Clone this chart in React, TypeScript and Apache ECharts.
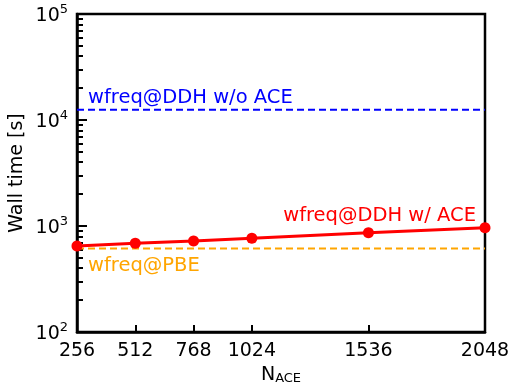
import React, { useEffect, useRef } from "react";
import * as echarts from "echarts";

const nAce = [256, 512, 768, 1024, 1536, 2048];
const wallTimeAce = [647, 687, 722, 766, 865, 964];
const wallTimeNoAce = 12500;
const wallTimePbe = 615;
const xTicks = [256, 512, 768, 1024, 1536, 2048];
const yMajor = [100, 1000, 10000, 100000];
const yMinor = [2, 3, 4, 5, 6, 7, 8, 9].flatMap((m) => [m * 100, m * 1000, m * 10000]);

const FONT = "DejaVu Sans";
const FS = 19;
const FS_NOTE = 19.5;

export default function App() {
  const ref = useRef<HTMLDivElement>(null);
  useEffect(() => {
    if (!ref.current) return;
    const chart = echarts.init(ref.current, null, { renderer: "svg" });
    chart.setOption({
      animation: false,
      textStyle: { fontFamily: FONT },
      grid: {
        left: 77,
        right: 26,
        top: 14,
        bottom: 55,
        outerBoundsMode: "none",
        containLabel: false,
        show: true,
        borderColor: "#000",
        borderWidth: 2.5,
        backgroundColor: "transparent",
      },
      xAxis: {
        type: "value",
        min: 256,
        max: 2048,
        name: "{n|N}{s|ACE}",
        nameLocation: "middle",
        nameGap: 30,
        nameTextStyle: {
          rich: {
            n: { fontSize: FS, fontFamily: FONT, color: "#000" },
            s: { fontSize: 13, fontFamily: FONT, color: "#000", padding: [9, 0, 0, 0] },
          },
        },
        axisLine: { show: true, lineStyle: { color: "#000", width: 2.5 } },
        axisTick: { show: true, inside: true, length: 7, lineStyle: { color: "#000", width: 2 }, customValues: xTicks },
        axisLabel: {
          color: "#000",
          fontSize: FS,
          fontFamily: FONT,
          margin: 7,
          customValues: xTicks,
          formatter: (v: number) => String(v),
        },
        splitLine: { show: false },
      },
      yAxis: [
        {
          type: "log",
          logBase: 10,
          min: 100,
          max: 100000,
          name: "Wall time [s]",
          nameLocation: "middle",
          nameGap: 49,
          nameTextStyle: { color: "#000", fontSize: FS, fontFamily: FONT },
          axisLine: { show: true, lineStyle: { color: "#000", width: 2.5 } },
          axisTick: { show: true, inside: true, length: 10, lineStyle: { color: "#000", width: 2 }, customValues: yMajor },
          axisLabel: {
            customValues: yMajor,
            margin: 9,
            formatter: (v: number) => `{b|10}{s|${Math.round(Math.log10(v))}}`,
            rich: {
              b: { fontSize: FS, fontFamily: FONT, color: "#000" },
              s: { fontSize: 13, fontFamily: FONT, color: "#000", padding: [0, 0, 11, 0] },
            },
          },
          splitLine: { show: false },
        },
        {
          type: "log",
          logBase: 10,
          min: 100,
          max: 100000,
          position: "left",
          axisLine: { show: false },
          axisTick: { show: true, inside: true, length: 6, lineStyle: { color: "#000", width: 2 }, customValues: yMinor },
          axisLabel: { show: false },
          splitLine: { show: false },
        },
      ],
      series: [
        {
          type: "line",
          data: [[256, wallTimeNoAce], [2048, wallTimeNoAce]],
          symbol: "none",
          lineStyle: { color: "#0000ff", width: 2, type: [7, 4] },
          z: 2,
        },
        {
          type: "line",
          data: [[256, wallTimePbe], [2048, wallTimePbe]],
          symbol: "none",
          lineStyle: { color: "#ffa500", width: 2, type: [7, 4] },
          z: 2,
        },
        {
          type: "line",
          data: nAce.map((x, i) => [x, wallTimeAce[i]]),
          symbol: "circle",
          symbolSize: 11,
          itemStyle: { color: "#ff0000" },
          lineStyle: { color: "#ff0000", width: 3 },
          z: 3,
        },
      ],
      graphic: [
        { type: "text", left: 88, top: 86, style: { text: "wfreq@DDH w/o ACE", fill: "#0000ff", fontSize: FS_NOTE, fontFamily: FONT } },
        { type: "text", right: 35, top: 204, style: { text: "wfreq@DDH w/ ACE", fill: "#ff0000", fontSize: FS_NOTE, fontFamily: FONT } },
        { type: "text", left: 88, top: 254, style: { text: "wfreq@PBE", fill: "#ffa500", fontSize: FS_NOTE, fontFamily: FONT } },
      ],
    });
    return () => chart.dispose();
  }, []);
  return <div ref={ref} style={{ position: "fixed", left: 0, top: 0, width: 511, height: 387 }} />;
}
